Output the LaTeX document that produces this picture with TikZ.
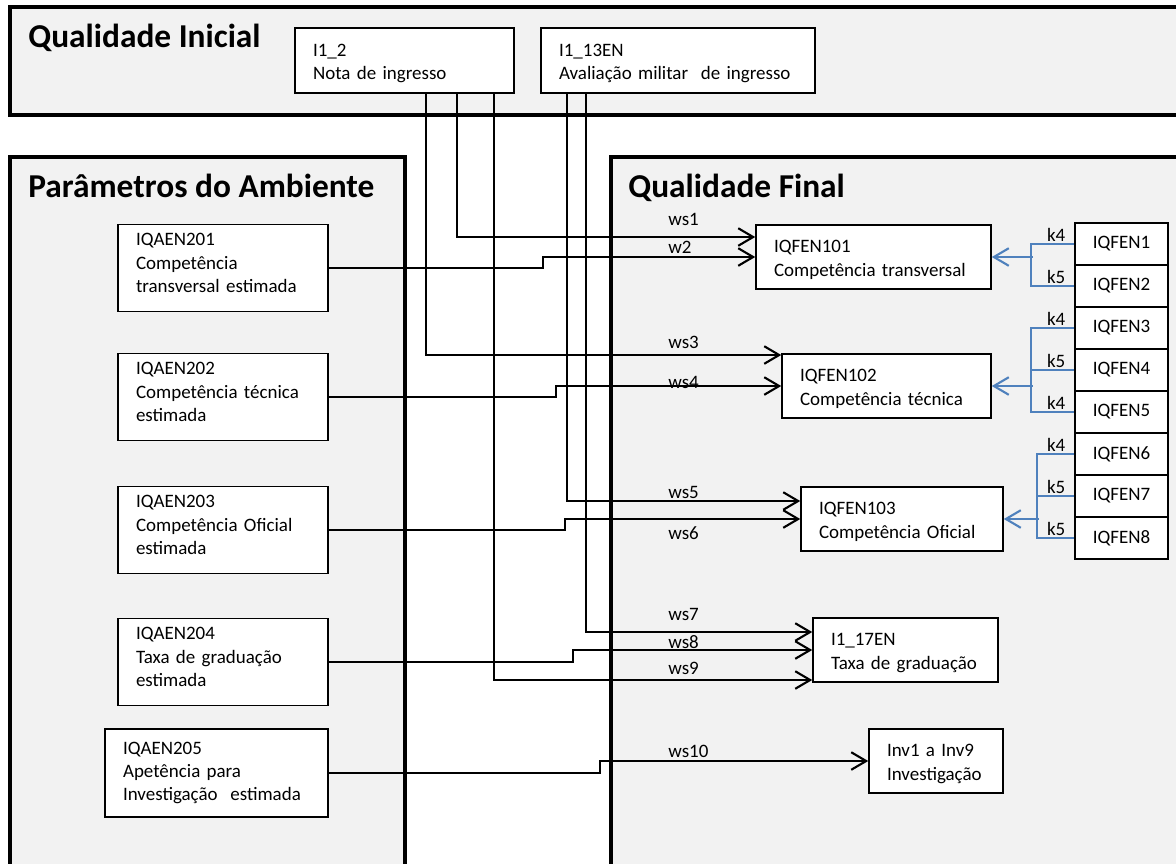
\documentclass[tikz,border=0pt]{standalone}
\usepackage{fontspec}
\setmainfont{Carlito}
\usetikzlibrary{arrows.meta}
\definecolor{panelgray}{HTML}{F2F2F2}
\definecolor{kblue}{HTML}{4F81BD}
\newcommand{\boxfont}{\fontsize{10.8}{13.3}\selectfont}
\newcommand{\titlefont}{\fontsize{19}{23}\selectfont\bfseries}
\newcommand{\sinkstrut}{\rule{0pt}{10.4pt}}
\newcommand{\liftstrut}{\rule[-5.7pt]{0pt}{5.7pt}}

\begin{document}
\begin{tikzpicture}[x=0.02cm,y=-0.02cm,
    panel/.style={draw,line width=2.8pt,fill=panelgray},
    box/.style={draw,fill=white,line width=0.9pt,align=left,inner xsep=0.36cm,inner ysep=0pt,font=\boxfont},
    fen/.style={draw,fill=white,line width=0.9pt,minimum width=1.86cm,minimum height=0.84cm,inner sep=0pt,font=\boxfont},
    heading/.style={anchor=base west,inner sep=0pt,font=\titlefont},
    wlabel/.style={anchor=west,inner sep=0pt,font=\boxfont},
    klabel/.style={inner sep=0pt,font=\boxfont},
    conn/.style={line width=1.2pt,-{Straight Barb[length=8.5pt,width=10pt]}},
    kconn/.style={draw=kblue,line width=1.2pt},
    karrow/.style={kconn,-{Straight Barb[length=8.5pt,width=10pt]}}]
    \useasboundingbox (0,0) rectangle (1176,863);
    \clip (0,0) rectangle (1176,863);
    % panels
    \draw[panel] (10,7) rectangle (1200,115);
    \draw[panel] (10,157) rectangle (405,900);
    \draw[panel] (611,157) rectangle (1200,900);
    \node[heading] (hIni) at (28,47) {Qualidade Inicial};
    \node[heading] (hAmb) at (28,197) {Parâmetros do Ambiente};
    \node[heading] (hFin) at (628,197) {Qualidade Final};
    % initial quality
    \node[box,text width=3.66cm,minimum height=1.3cm] (I12) at (404.5,60.5) {\sinkstrut I1\_2\\Nota de ingresso};
    \node[box,text width=4.76cm,minimum height=1.3cm] (I113EN) at (678,60.5) {\sinkstrut I1\_13EN\\Avaliação militar\ \ de ingresso};
    % environment
    \node[box,text width=3.48cm,minimum height=1.74cm] (IQAEN201) at (223,268) {IQAEN201\\Competência\\transversal estimada\liftstrut};
    \node[box,text width=3.48cm,minimum height=1.74cm] (IQAEN202) at (223,397) {IQAEN202\\Competência técnica\\estimada\liftstrut};
    \node[box,text width=3.48cm,minimum height=1.74cm] (IQAEN203) at (223,530) {IQAEN203\\Competência Oficial\\estimada\liftstrut};
    \node[box,text width=3.48cm,minimum height=1.74cm] (IQAEN204) at (223,662) {IQAEN204\\Taxa de graduação\\estimada\liftstrut};
    \node[box,text width=3.74cm,minimum height=1.76cm] (IQAEN205) at (216.5,773) {IQAEN205\\Apetência para\\Investigação\ \ estimada};
    % final quality
    \node[box,text width=3.98cm,minimum height=1.28cm] (IQFEN101) at (873.5,257) {\sinkstrut IQFEN101\\Competência transversal};
    \node[box,text width=3.46cm,minimum height=1.28cm] (IQFEN102) at (886.5,386) {\sinkstrut IQFEN102\\Competência técnica};
    \node[box,text width=3.32cm,minimum height=1.28cm] (IQFEN103) at (902,519) {\sinkstrut IQFEN103\\Competência Oficial};
    \node[box,text width=2.98cm,minimum height=1.28cm] (I117EN) at (905.5,650) {\sinkstrut I1\_17EN\\Taxa de graduação};
    \node[box,text width=1.96cm,minimum height=1.28cm] (Inv) at (936,761) {\sinkstrut Inv1 a Inv9\\Investigação};
    \foreach \i in {1,...,8}
        \node[fen] (IQFEN\i) at (1121.5,{202+42*\i}) {IQFEN\i};
    % weights
    \foreach \w/\y in {ws1/219,w2/247,ws3/342,ws4/382,ws5/492,ws6/533,ws7/614,ws8/642,ws9/668,ws10/751}
        \node[wlabel] (l\w) at (668,\y) {\w};
    \foreach \i/\kname in {1/k4,2/k5,3/k4,4/k5,5/k4,6/k4,7/k5,8/k5}
        \node[klabel] (k\i) at ([xshift=-0.36cm,yshift=0.18cm]IQFEN\i.west) {\kname};
    % connectors
    \draw[conn] ([xshift=1.05cm]I12.south) |- ([yshift=0.4cm]IQFEN101.west);
    \draw[conn] (IQAEN201.east) -- ++(214,0) |- (IQFEN101.west);
    \draw[conn] ([xshift=0.43cm]I12.south) |- ([yshift=0.62cm]IQFEN102.west);
    \draw[conn] (IQAEN202.east) -- ++(227,0) |- (IQFEN102.west);
    \draw[conn] ([xshift=-2.22cm]I113EN.south) |- ([yshift=0.36cm]IQFEN103.west);
    \draw[conn] (IQAEN203.east) -- ++(236,0) |- (IQFEN103.west);
    \draw[conn] ([xshift=-1.84cm]I113EN.south) |- ([yshift=0.36cm]I117EN.west);
    \draw[conn] (IQAEN204.east) -- ++(244,0) |- (I117EN.west);
    \draw[conn] ([xshift=1.79cm]I12.south) |- ([yshift=-0.6cm]I117EN.west);
    \draw[conn] (IQAEN205.east) -- ++(271,0) |- (Inv.west);
    % blue links
    \draw[kconn] (IQFEN1.west) -- ++(-43,0) |- (IQFEN2.west);
    \draw[karrow] ([xshift=0.82cm]IQFEN101.east) -- (IQFEN101.east);
    \draw[kconn] (IQFEN3.west) -- ++(-43,0) |- (IQFEN5.west);
    \draw[kconn] (IQFEN4.west) -- ++(-43,0);
    \draw[karrow] ([xshift=0.82cm]IQFEN102.east) -- (IQFEN102.east);
    \draw[kconn] (IQFEN6.west) -- ++(-37,0) |- (IQFEN8.west);
    \draw[kconn] (IQFEN7.west) -- ++(-37,0);
    \draw[karrow] ([xshift=0.7cm]IQFEN103.east) -- (IQFEN103.east);
\end{tikzpicture}
\end{document}
